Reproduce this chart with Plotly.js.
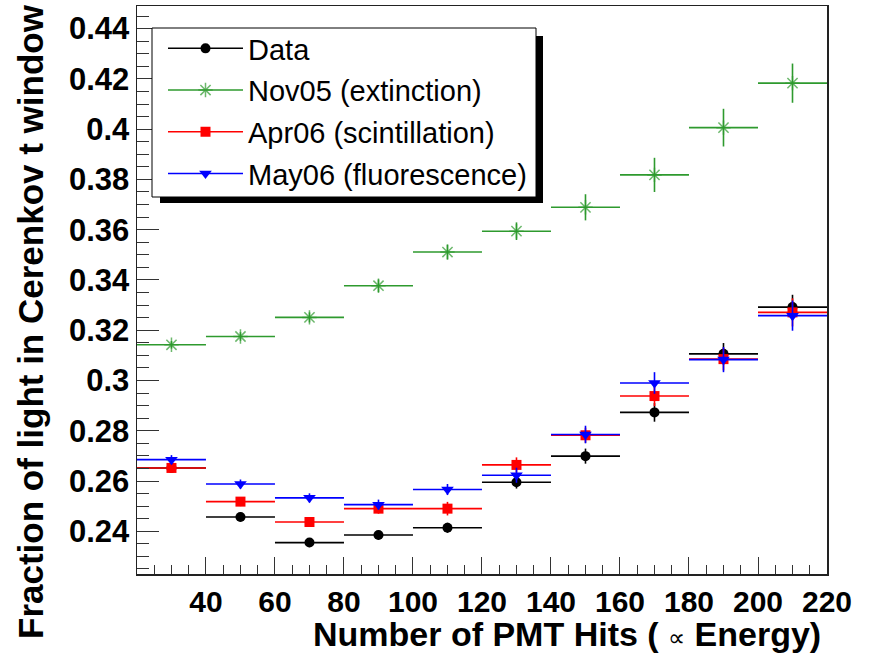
<!DOCTYPE html>
<html>
<head>
<meta charset="utf-8">
<script src="https://cdn.plot.ly/plotly-3.0.1.min.js"></script>
<style>html,body{margin:0;padding:0;background:#fff;}#plot{width:872px;height:656px;}</style>
</head>
<body>
<div id="plot"></div>
<script>
// ---- data (bin centres in PMT hits, fraction of light in Cerenkov window) ----
const binCenters   = [30, 50, 70, 90, 110, 130, 150, 170, 190, 210];
const binHalfWidth = [10, 10, 10, 10, 10, 10, 10, 10, 10, 10];

const dataY   = [0.2652, 0.2457, 0.2355, 0.2385, 0.2414, 0.2595, 0.2699, 0.2873, 0.3106, 0.3292];
const dataErr = [0.0018, 0.0018, 0.0018, 0.0018, 0.0020, 0.0025, 0.0030, 0.0037, 0.0043, 0.0049];

const nov05Y   = [0.3142, 0.3175, 0.3251, 0.3377, 0.3511, 0.3594, 0.3689, 0.3818, 0.4006, 0.4183];
const nov05Err = [0.0015, 0.0017, 0.0020, 0.0025, 0.0030, 0.0035, 0.0052, 0.0068, 0.0075, 0.0078];

const apr06Y   = [0.2652, 0.2518, 0.2437, 0.2490, 0.2490, 0.2664, 0.2782, 0.2938, 0.3085, 0.3271];
const apr06Err = [0.0018, 0.0018, 0.0018, 0.0020, 0.0027, 0.0030, 0.0030, 0.0040, 0.0045, 0.0056];

const may06Y   = [0.2685, 0.2588, 0.2533, 0.2506, 0.2566, 0.2623, 0.2785, 0.2990, 0.3083, 0.3258];
const may06Err = [0.0018, 0.0018, 0.0018, 0.0020, 0.0022, 0.0030, 0.0035, 0.0043, 0.0050, 0.0060];

const seriesNames = ["Data", "Nov05 (extinction)", "Apr06 (scintillation)", "May06 (fluorescence)"];
const xTickVals = [40, 60, 80, 100, 120, 140, 160, 180, 200, 220];
const yTickVals = [0.24, 0.26, 0.28, 0.30, 0.32, 0.34, 0.36, 0.38, 0.40, 0.42, 0.44];
const yTickText = ["0.24", "0.26", "0.28", "0.3", "0.32", "0.34", "0.36", "0.38", "0.4", "0.42", "0.44"];
const xTitle = "Number of PMT Hits ( <span style='font-size:24px;font-weight:normal'>∝</span> Energy)";
const yTitle = "Fraction of light in Cerenkov t window";

// interleave nulls so that 'lines+markers' gives a line in the legend but no connecting lines
function gap(arr) { const out = []; arr.forEach((v, i) => { out.push(v); if (i < arr.length - 1) out.push(null); }); return out; }

const FONT = "Liberation Sans, Arial, Helvetica, sans-serif";

function mk(name, y, err, color, symbol, size, mcolor, lineW, grp) {
  return {
    type: "scatter", mode: "lines+markers", name: name, legendgroup: grp,
    x: gap(binCenters), y: gap(y), connectgaps: false,
    line: {color: color, width: 1.5},
    marker: {symbol: symbol, size: size, color: mcolor,
             line: {color: mcolor, width: lineW}},
    error_x: {type: "data", array: gap(binHalfWidth), symmetric: true, color: color, thickness: 1.6, width: 0},
    error_y: {type: "data", array: gap(err), symmetric: true, color: color, thickness: 1.6, width: 0},
    hoverinfo: "x+y+name"
  };
}

const traces = [
  mk(seriesNames[0], dataY,  dataErr,  "#000000", "circle",        10, "#000000", 0, "g1"),
  mk(seriesNames[1], nov05Y, nov05Err, "#2e9a2e", "asterisk-open", 12, "rgba(46,154,46,0.7)", 1.5, "g2"),
  mk(seriesNames[2], apr06Y, apr06Err, "#ff0000", "square",        10, "#ff0000", 0, "g3"),
  mk(seriesNames[3], may06Y, may06Err, "#0000ff", "triangle-down", 11, "#0000ff", 0, "g4")
];

// paper-coordinate helpers for the legend frame (plot area: x 137..827 px, y 6..574 px)
const px = v => (v - 137) / 690;
const py = v => 1 - (v - 6) / 568;

const layout = {
  width: 872, height: 656,
  margin: {l: 137, r: 45, t: 6, b: 82},
  paper_bgcolor: "#ffffff", plot_bgcolor: "#ffffff",
  showlegend: true,
  font: {family: FONT, color: "#000"},
  xaxis: {
    range: [20.01, 220], tickmode: "array", tickvals: xTickVals,
    ticks: "inside", ticklen: 17, tickwidth: 1, tickcolor: "#333",
    minor: {tickmode: "linear", tick0: 20, dtick: 5, ticks: "inside", ticklen: 9, tickcolor: "#333", tickwidth: 1, showgrid: false},
    showline: true, linecolor: "#222", linewidth: 1.5, mirror: true,
    showgrid: false, zeroline: false,
    tickfont: {family: FONT, size: 30, weight: "bold", color: "#000"},
    ticklabelstandoff: 0
  },
  yaxis: {
    range: [0.223, 0.449], tickmode: "array", tickvals: yTickVals, ticktext: yTickText,
    ticks: "inside", ticklen: 22, tickwidth: 1, tickcolor: "#333",
    minor: {tickmode: "linear", tick0: 0, dtick: 0.005, ticks: "inside", ticklen: 12, tickcolor: "#333", tickwidth: 1, showgrid: false},
    showline: true, linecolor: "#222", linewidth: 1.5, mirror: true,
    showgrid: false, zeroline: false,
    tickfont: {family: FONT, size: 31, weight: "bold", color: "#000"},
    ticklabelstandoff: 0
  },
  legend: {
    x: px(163), y: py(23), xanchor: "left", yanchor: "top",
    bgcolor: "rgba(0,0,0,0)", borderwidth: 0,
    font: {family: FONT, size: 29, color: "#000"},
    itemwidth: 75, traceorder: "grouped", tracegroupgap: 1
  },
  shapes: [
    {type: "rect", xref: "paper", yref: "paper", x0: px(160), x1: px(543), y0: py(203), y1: py(36),
     fillcolor: "#000", line: {width: 0}, layer: "above"},
    {type: "rect", xref: "paper", yref: "paper", x0: px(152), x1: px(536), y0: py(197), y1: py(28),
     fillcolor: "#fff", line: {color: "#000", width: 1}, layer: "above"}
  ],
  annotations: [
    {text: xTitle, xref: "paper", yref: "paper", x: px(823), y: py(634), xanchor: "right", yanchor: "middle",
     showarrow: false, font: {family: FONT, size: 34, weight: "bold", color: "#000"}},
    {text: yTitle, xref: "paper", yref: "paper", x: px(30), y: py(322), xanchor: "center", yanchor: "middle",
     textangle: -90, showarrow: false, font: {family: FONT, size: 35, weight: "bold", color: "#000"}}
  ]
};

Plotly.newPlot("plot", traces, layout, {staticPlot: true, displayModeBar: false});
</script>
</body>
</html>
